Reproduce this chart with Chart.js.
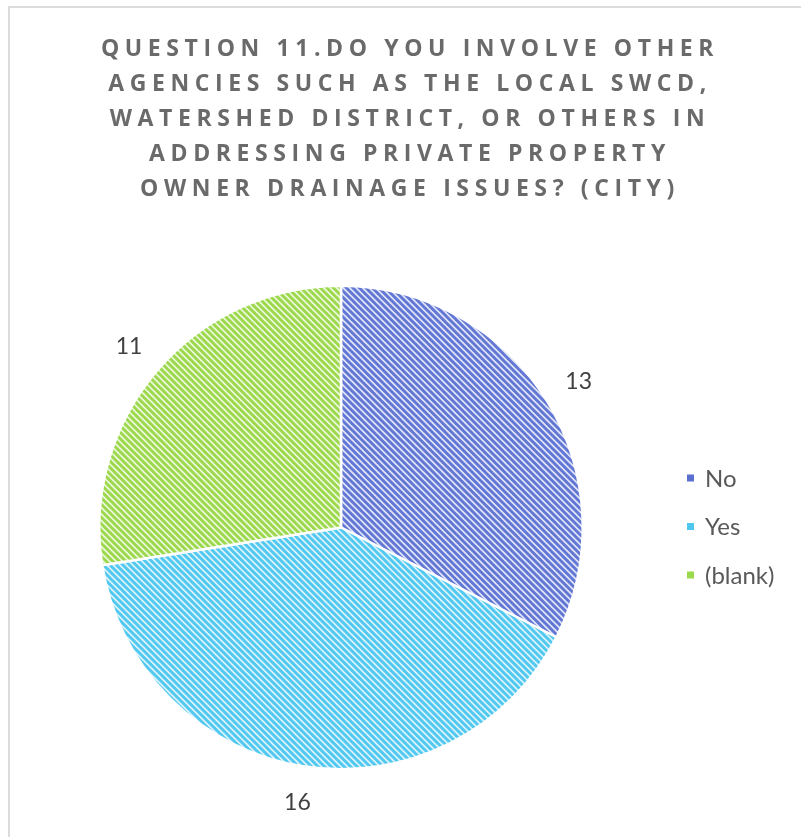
<!DOCTYPE html>
<html>
<head>
<meta charset="utf-8">
<script src="https://cdn.jsdelivr.net/npm/chart.js@4.4.1/dist/chart.umd.min.js"></script>
<style>
  html, body { margin: 0; padding: 0; background: #ffffff; }
  #wrap { position: relative; width: 801px; height: 837px; overflow: hidden; }
  #frame { position: absolute; left: 8px; top: 6px; width: 900px; height: 900px;
           border-left: 2px solid #dcdcdc; border-top: 2px solid #dcdcdc; }
  #title { position: absolute; left: 0; top: 30px; width: 820px; text-align: center;
           font-family: "Open Sans", Lato, sans-serif; font-weight: bold; font-size: 23px;
           line-height: 35px; letter-spacing: 5.6px; color: #6a6a6a; }
  canvas { position: absolute; left: 0; top: 0; }
</style>
</head>
<body>
<div id="wrap">
  <div id="frame"></div>
  <canvas id="c" width="801" height="837"></canvas>
  <div id="title">QUESTION 11.DO YOU INVOLVE OTHER<br>AGENCIES SUCH AS THE LOCAL SWCD,<br>WATERSHED DISTRICT, OR OTHERS IN<br>ADDRESSING PRIVATE PROPERTY<br>OWNER DRAINAGE ISSUES? (CITY)</div>
</div>
<script>
// Survey answers and counts
const categories = ["No", "Yes", "(blank)"];
const counts = [13, 16, 11];

// Stripe colours per answer: [stripe, background]
const stripeColors = [
  ["#6276d4", "#e0e5f8"],
  ["#50c8ef", "#dcf3fc"],
  ["#9cd84c", "#ecf8dc"]
];
const legendSwatch = ["#5b6fd0", "#4fc6ee", "#9ad84c"];

// Wide downward-diagonal hatch pattern
function hatch(stripe, bg) {
  const s = 13;
  const t = document.createElement("canvas");
  t.width = s; t.height = s;
  const g = t.getContext("2d");
  g.fillStyle = bg;
  g.fillRect(0, 0, s, s);
  g.strokeStyle = stripe;
  g.lineWidth = 2.9;
  for (let k = -2; k <= 2; k++) {
    const o = k * s / 2;
    g.beginPath();
    g.moveTo(o - 2, -2);
    g.lineTo(o + s + 2, s + 2);
    g.stroke();
  }
  return g.createPattern(t, "repeat");
}

const ctxMain = document.getElementById("c").getContext("2d");
const fills = stripeColors.map(p => hatch(p[0], p[1]));

// Value labels just outside each slice, plus a legend on the right
const extras = {
  id: "extras",
  afterDatasetsDraw(chart) {
    const ctx = chart.ctx;
    const meta = chart.getDatasetMeta(0);
    ctx.save();
    ctx.font = "23px Lato, 'Open Sans', sans-serif";
    ctx.fillStyle = "#404040";
    ctx.textAlign = "center";
    ctx.textBaseline = "middle";
    meta.data.forEach((arc, i) => {
      const p = arc.getProps(["x", "y", "startAngle", "endAngle", "outerRadius"], true);
      const mid = (p.startAngle + p.endAngle) / 2;
      const r = p.outerRadius + 37;
      ctx.fillText(String(chart.data.datasets[0].data[i]), p.x + Math.cos(mid) * r, p.y + Math.sin(mid) * r);
    });
    // legend
    const lx = 687, ly = 478, step = 48.5;
    ctx.textAlign = "left";
    ctx.font = "24px Lato, 'Open Sans', sans-serif";
    chart.data.labels.forEach((lab, i) => {
      const y = ly + i * step;
      ctx.fillStyle = legendSwatch[i];
      ctx.fillRect(lx, y - 3.5, 7, 7);
      ctx.fillStyle = "#595959";
      ctx.fillText(lab, lx + 18, y + 1);
    });
    ctx.restore();
  }
};

new Chart(ctxMain, {
  type: "pie",
  data: {
    labels: categories,
    datasets: [{
      data: counts,
      backgroundColor: fills,
      borderColor: "#ffffff",
      borderWidth: 2.5
    }]
  },
  options: {
    responsive: false,
    animation: false,
    layout: { padding: { left: 98, top: 284, right: 217, bottom: 66 } },
    plugins: {
      legend: { display: false },
      title: { display: false },
      tooltip: { enabled: false }
    }
  },
  plugins: [extras]
});
</script>
</body>
</html>
